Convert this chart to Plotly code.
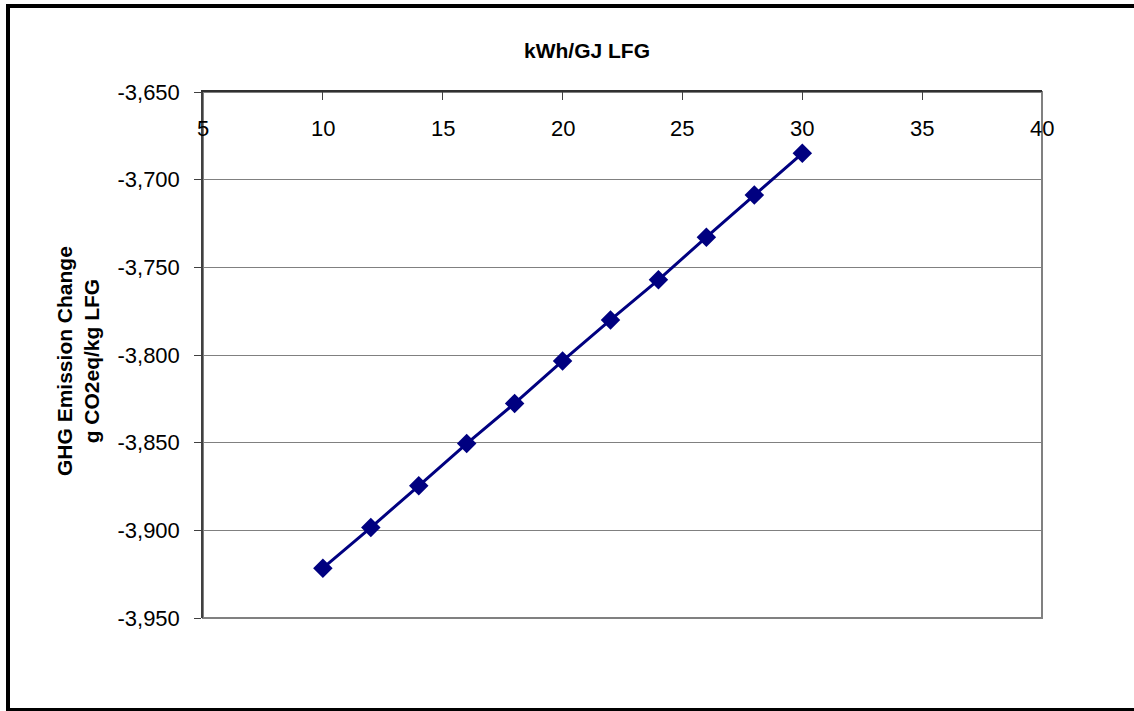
import plotly.graph_objects as go

kwh_per_gj = [10, 12, 14, 16, 18, 20, 22, 24, 26, 28, 30]
ghg_change = [-3921.6, -3898.4, -3874.6, -3850.5, -3827.6, -3803.4,
              -3780.0, -3757.1, -3732.8, -3708.8, -3685.0]
x_ticks = [5, 10, 15, 20, 25, 30, 35, 40]
y_ticks = [-3650, -3700, -3750, -3800, -3850, -3900, -3950]
y_tick_text = [f"{v:,}" for v in y_ticks]

FONT = "Liberation Sans, Arial, sans-serif"
W, H = 1134, 711
L, R, T, B = 203, 92, 92, 93
pw, ph = W - L - R, H - T - B

def px(x):
    return (x - L) / pw

def py(y):
    return 1 - (y - T) / ph

fig = go.Figure()
fig.add_trace(go.Scatter(
    x=kwh_per_gj, y=ghg_change, mode="lines+markers",
    line=dict(color="#000080", width=3),
    marker=dict(symbol="diamond", size=15, color="#000080"),
    showlegend=False, cliponaxis=False,
))

annotations = [
    dict(text="<b>kWh/GJ LFG</b>", xref="paper", yref="paper",
         x=px(587), y=py(51), xanchor="center", yanchor="middle",
         showarrow=False, font=dict(size=21, family=FONT)),
    dict(text="<b>GHG Emission Change<br>g CO2eq/kg LFG</b>",
         xref="paper", yref="paper", x=px(78), y=py(361),
         xanchor="center", yanchor="middle",
         showarrow=False, textangle=-90,
         font=dict(size=21, family=FONT)),
]
for v in x_ticks:
    annotations.append(dict(
        text=str(v), xref="x", yref="paper", x=v, y=py(128.5),
        yanchor="middle", xanchor="center", showarrow=False,
        font=dict(size=22, family=FONT, color="black"),
    ))

fig.update_layout(
    width=W, height=H,
    margin=dict(l=L, r=R, t=T, b=B),
    paper_bgcolor="white", plot_bgcolor="white",
    font=dict(family=FONT, color="black", size=22),
    xaxis=dict(
        range=[5, 40], side="top", tickvals=x_ticks,
        ticks="inside", ticklen=8, tickcolor="#404040",
        showticklabels=False,
        showgrid=False, zeroline=False,
        showline=True, linecolor="#303030", linewidth=2,
    ),
    yaxis=dict(
        range=[-3950, -3650], tickvals=y_ticks, ticktext=y_tick_text,
        ticks="outside", ticklen=7, tickcolor="#404040",
        ticklabelstandoff=10,
        showgrid=True, gridcolor="#808080", gridwidth=1,
        zeroline=False, showline=True, linecolor="#404040", linewidth=1.5,
        tickfont=dict(size=22, family=FONT),
    ),
    shapes=[
        dict(type="rect", xref="paper", yref="paper", x0=0, y0=0, x1=1, y1=1,
             line=dict(color="#808080", width=2), layer="below"),
        dict(type="rect", xref="paper", yref="paper",
             x0=px(8), y0=py(710), x1=px(1145), y1=py(6),
             line=dict(color="black", width=4)),
    ],
    annotations=annotations,
)

fig.write_html(
    "out.html",
    config={"displayModeBar": False},
    post_script="document.body.style.margin='0';document.body.style.overflow='hidden';",
)
